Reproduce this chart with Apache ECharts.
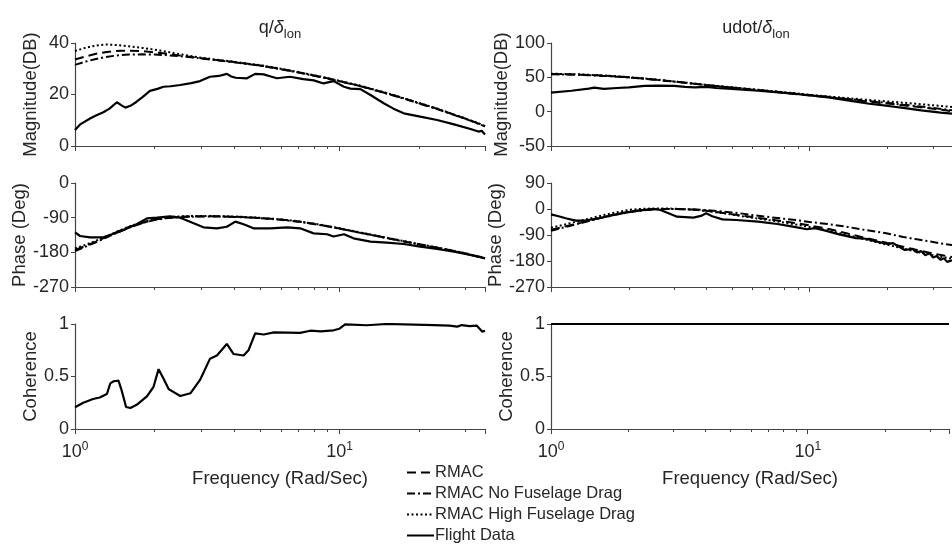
<!DOCTYPE html>
<html><head><meta charset="utf-8">
<script src="https://cdn.jsdelivr.net/npm/echarts@6/dist/echarts.min.js"></script>
<style>html,body{margin:0;padding:0;background:#fff}#c{width:952px;height:546px}</style>
</head><body><div id="c"></div>
<script>
// ---------- data ----------
const fModel = [1, 1.1, 1.2, 1.3, 1.4, 1.5, 1.6, 1.8, 2, 2.2, 2.5, 2.8, 3, 3.5, 4, 4.5, 5, 5.5, 6, 7, 8, 9, 10, 12, 14, 16, 18, 20, 23, 26, 30, 33, 35.5];

const qMagRMAC  = [33.6, 34.8, 35.8, 36.4, 36.8, 37.0, 37.0, 36.8, 36.4, 35.9, 35.1, 34.5, 34.1, 33.3, 32.6, 31.9, 31.3, 30.6, 29.9, 28.6, 27.4, 26.3, 25.2, 23.3, 21.4, 19.7, 18.1, 16.6, 14.7, 12.8, 10.6, 9.0, 7.7];
const qMagNoFus = [31.5, 32.8, 33.8, 34.5, 35.0, 35.3, 35.5, 35.6, 35.5, 35.3, 34.9, 34.4, 34.0, 33.2, 32.5, 31.8, 31.2, 30.5, 29.8, 28.5, 27.3, 26.2, 25.1, 23.2, 21.3, 19.6, 18.0, 16.5, 14.6, 12.7, 10.5, 8.9, 7.6];
const qMagHiFus = [36.9, 38.2, 39.0, 39.4, 39.3, 39.0, 38.7, 38.1, 37.4, 36.7, 35.6, 34.8, 34.3, 33.4, 32.7, 32.0, 31.4, 30.7, 30.0, 28.7, 27.5, 26.4, 25.3, 23.4, 21.5, 19.8, 18.2, 16.7, 14.8, 12.9, 10.7, 9.1, 7.8];

const qPhRMAC  = [-174, -163, -152, -141, -131, -122, -114, -103, -95, -91, -88, -87, -86.5, -86.5, -87.5, -89, -91, -93, -95, -100, -106, -112, -118, -129, -138, -146, -153, -159, -167, -174, -183, -190, -195];
const qPhNoFus = [-177, -165, -154, -143, -133, -124, -116, -104, -96, -91.5, -88.5, -87.5, -87, -87, -88, -89.5, -91.5, -93.5, -95.5, -100.5, -106.5, -112.5, -118.5, -129.5, -138.5, -146.5, -153.5, -159.5, -167.5, -174.5, -183.5, -190.5, -195.5];
const qPhHiFus = [-170, -160, -150, -140, -130, -121, -113, -102, -94, -89.5, -86.5, -85.5, -85.5, -86, -87, -88.5, -90.5, -92.5, -94.5, -99.5, -105.5, -111.5, -117.5, -128.5, -137.5, -145.5, -152.5, -158.5, -166.5, -173.5, -182.5, -189.5, -195];

const uMagRMAC  = [54.8, 54.6, 54.3, 53.9, 53.4, 52.9, 52.4, 51.3, 50.0, 48.7, 46.8, 44.9, 43.8, 41.0, 38.6, 36.8, 35.1, 33.5, 32.1, 29.6, 27.4, 25.4, 23.6, 20.6, 18.0, 15.6, 13.5, 11.8, 9.2, 7.0, 4.2, 2.3, 0.8];
const uMagNoFus = [54.4, 54.3, 54.0, 53.6, 53.1, 52.6, 52.1, 51.0, 49.8, 48.5, 46.6, 44.8, 43.7, 41.0, 38.6, 36.8, 35.2, 33.7, 32.3, 29.9, 27.8, 25.9, 24.1, 21.2, 18.7, 16.4, 14.4, 12.7, 10.2, 8.1, 5.4, 3.6, 2.1];
const uMagHiFus = [55.2, 55.0, 54.6, 54.2, 53.7, 53.2, 52.7, 51.6, 50.3, 49.0, 47.1, 45.2, 44.0, 41.3, 38.9, 37.1, 35.5, 34.0, 32.7, 30.4, 28.3, 26.4, 24.6, 21.9, 19.7, 17.8, 16.2, 14.9, 13.1, 11.4, 9.3, 7.9, 6.7];

const uPhRMAC  = [-72, -63, -55, -48, -41, -34, -28, -18, -10, -5, -1, 0, 0, -2, -6, -12, -18, -23, -28, -36, -43, -50, -57, -70, -85, -98, -108, -118, -131, -142, -154, -161, -166];
const uPhNoFus = [-75, -66, -57, -49, -42, -35, -29, -19, -11, -5.5, -1.5, 0, 0, -1, -4, -8, -12, -16, -21, -28, -34, -39, -45, -53, -62, -71, -78, -85, -97, -105, -114, -121, -125];
const uPhHiFus = [-65, -56, -48, -41, -34, -27, -21, -11, -3, 0, 2, 2, 1, -2, -7, -13, -19, -25, -30, -39, -47, -55, -62, -76, -90, -103, -114, -124, -137, -148, -160, -167, -172];

// flight data, q / delta_lon
const fqMag = [1, 1.05, 1.14, 1.2, 1.28, 1.35, 1.44, 1.5, 1.55, 1.62, 1.71, 1.8, 1.92, 2.05, 2.16, 2.3, 2.5, 2.75, 2.97, 3.24, 3.5, 3.75, 3.9, 4.05, 4.47, 4.8, 5.17, 5.5, 5.8, 6.5, 7.3, 8.0, 8.7, 9.5, 10.4, 11, 12, 13.1, 14.7, 16, 17.5, 20.2, 23.4, 27.1, 31.3, 33.5, 34.5, 35.5];
const qMagFlight = [6.2, 8.5, 10.7, 11.8, 13.1, 14.5, 17.0, 15.8, 14.9, 15.6, 17.2, 19.0, 21.4, 22.2, 23.0, 23.2, 23.7, 24.4, 25.2, 26.9, 27.2, 28.0, 27.0, 26.5, 26.3, 28.0, 27.8, 27.0, 26.3, 26.9, 26.0, 25.5, 24.3, 25.2, 23.0, 22.3, 22.1, 19.8, 16.6, 14.5, 12.7, 11.4, 10.1, 8.4, 6.6, 5.6, 5.9, 4.5];
const fqPh = [1, 1.045, 1.14, 1.28, 1.48, 1.71, 1.87, 2.04, 2.29, 2.5, 2.81, 3.06, 3.44, 3.75, 4.04, 4.34, 4.73, 5.47, 6.35, 7.1, 7.99, 8.98, 9.5, 10.4, 11.3, 13.1, 15.1, 17.5, 20.2, 23.4, 27.1, 31.3, 33.5, 35.5];
const qPhFlight = [-128, -137.6, -141, -141, -126, -107, -92, -90, -86.6, -90, -104.7, -115, -117.7, -113.6, -100.4, -107, -117.7, -117.7, -115, -117.7, -130.7, -133, -139, -133, -143.7, -152, -154.7, -158.4, -165, -171.3, -178.3, -187, -191, -195.6];
const fqCoh = [1, 1.075, 1.17, 1.24, 1.32, 1.36, 1.40, 1.46, 1.50, 1.56, 1.62, 1.71, 1.87, 1.98, 2.07, 2.16, 2.26, 2.5, 2.73, 2.97, 3.24, 3.44, 3.75, 3.98, 4.34, 4.53, 4.80, 5.17, 5.65, 7.1, 7.76, 8.5, 9.5, 10.0, 10.5, 12.7, 15.1, 22.8, 26, 27.9, 29, 31, 33, 34.7, 35.5];
const qCohFlight = [0.207, 0.25, 0.286, 0.30, 0.333, 0.435, 0.455, 0.46, 0.37, 0.21, 0.20, 0.23, 0.31, 0.40, 0.57, 0.48, 0.38, 0.314, 0.34, 0.467, 0.67, 0.70, 0.81, 0.714, 0.70, 0.75, 0.91, 0.90, 0.92, 0.915, 0.936, 0.93, 0.94, 0.955, 0.997, 0.988, 1.0, 0.99, 0.985, 0.975, 0.99, 0.98, 0.985, 0.926, 0.935];

// flight data, udot / delta_lon
const fuMag = [1, 1.2, 1.4, 1.47, 1.6, 1.8, 2.0, 2.3, 2.6, 3.0, 3.3, 3.6, 4.0, 4.34, 5, 6.32, 8, 9.76, 12, 15.07, 17, 20.1, 23, 27, 32.1, 35.5];
const uMagFlight = [27.6, 30.5, 33.5, 35.0, 33.2, 34.5, 35.5, 37.5, 37.8, 37.5, 36.0, 35.5, 36.0, 34.5, 33.0, 30.5, 27.5, 24.3, 20.5, 14.5, 11.5, 8.3, 5.5, 2.0, -1.5, -3.0];
const fuPh = [1, 1.07, 1.14, 1.2, 1.25, 1.35, 1.53, 1.75, 2.04, 2.3, 2.5, 2.65, 2.8, 3.07, 3.3, 3.55, 3.8, 3.98, 4.2, 4.6, 5.2, 6.32, 7.5, 8.5, 9.76, 10.5, 11.5, 13, 15.1, 16.5, 18, 20, 21, 23.3, 25, 26, 27, 28, 29, 30, 31, 32.1, 33, 34, 35.5];
const uPhFlight = [-18.5, -25, -32, -37, -40.4, -40, -32, -20, -9, -3, 0, -3.5, -12, -26.6, -28, -30, -24, -15, -25, -35.8, -38, -44, -52, -60, -70, -66, -75, -88, -101, -103, -112, -121, -118, -142, -138, -150, -146, -160, -152, -168, -163, -176, -170, -183, -178];
const fuCoh = [1, 35.5];
const uCohFlight = [1, 1];

const names = ['RMAC', 'RMAC No Fuselage Drag', 'RMAC High Fuselage Drag', 'Flight Data'];
const titles = ['q/{d|δ}{s|lon}', 'udot/{d|δ}{s|lon}'];
const yNames = ['Magnitude(DB)', 'Phase (Deg)', 'Coherence'];
const xName = 'Frequency (Rad/Sec)';
const xMin = 1, xMax = 35.5;

// ---------- build ----------
const pairs = (f, v) => f.map((x, i) => [x, v[i]]);
const TXT = '#262626', AX = '#444';
const FONT = 'Liberation Sans, Arial, sans-serif';
const colLeft = [75, 551], gridW = 410;
const rowTop = [43, 183, 324], rowH = [103, 104, 105];
const yRanges = [
  [[0, 40, 20], [-270, 0, 90], [0, 1, 0.5]],
  [[-50, 100, 50], [-270, 90, 90], [0, 1, 0.5]]
];
const styles = [
  {type: [9, 5], width: 2},
  {type: [8, 3, 2, 3], width: 2},
  {type: [2, 2.5], width: 2},
  {type: 'solid', width: 2.2}
];

const grids = [], xAxes = [], yAxes = [], series = [];
for (let c = 0; c < 2; c++) {
  for (let r = 0; r < 3; r++) {
    const gi = grids.length;
    grids.push({left: colLeft[c], top: rowTop[r], width: gridW, height: rowH[r], containLabel: false});
    const bottom = r === 2;
    xAxes.push({
      type: 'log', logBase: 10, gridIndex: gi, min: xMin, max: xMax, position: 'bottom',
      axisLine: {onZero: false, lineStyle: {color: AX, width: 1.2}},
      axisTick: {show: true, length: 5, lineStyle: {color: AX}},
      minorTick: {show: true, splitNumber: 9, length: 3, lineStyle: {color: AX}},
      splitLine: {show: false}, minorSplitLine: {show: false},
      axisLabel: {
        show: bottom, margin: 12, color: TXT, fontFamily: FONT, fontSize: 18, lineHeight: 22,
        formatter: v => {
          const e = Math.log10(v);
          if (Math.abs(e - Math.round(e)) > 1e-6) return '';
          return '10{sup|' + Math.round(e) + '}';
        },
        rich: {sup: {fontSize: 12, lineHeight: 12, verticalAlign: 'top', color: TXT, fontFamily: FONT}}
      },
      name: bottom ? xName : '', nameLocation: 'middle', nameGap: 40,
      nameTextStyle: {color: TXT, fontFamily: FONT, fontSize: 18.5}
    });
    const yr = yRanges[c][r];
    yAxes.push({
      type: 'value', gridIndex: gi, min: yr[0], max: yr[1], interval: yr[2],
      axisLine: {show: true, onZero: false, lineStyle: {color: AX, width: 1.2}},
      axisTick: {show: true, length: 4, lineStyle: {color: AX}},
      splitLine: {show: false},
      axisLabel: {color: TXT, fontFamily: FONT, fontSize: 18, margin: 6},
      name: yNames[r], nameLocation: 'middle', nameGap: 35,
      nameTextStyle: {color: TXT, fontFamily: FONT, fontSize: 18.5}
    });
  }
}

function addSeries(gi, name, data, sIdx) {
  series.push({
    name, type: 'line', xAxisIndex: gi, yAxisIndex: gi, data,
    symbol: 'none', showSymbol: false, smooth: false, animation: false,
    lineStyle: {color: '#000', width: styles[sIdx].width, type: styles[sIdx].type},
    itemStyle: {color: '#000'}, z: sIdx === 3 ? 4 : 3
  });
}
// left column (q)
addSeries(0, names[0], pairs(fModel, qMagRMAC), 0);
addSeries(0, names[1], pairs(fModel, qMagNoFus), 1);
addSeries(0, names[2], pairs(fModel, qMagHiFus), 2);
addSeries(0, names[3], pairs(fqMag, qMagFlight), 3);
addSeries(1, names[0], pairs(fModel, qPhRMAC), 0);
addSeries(1, names[1], pairs(fModel, qPhNoFus), 1);
addSeries(1, names[2], pairs(fModel, qPhHiFus), 2);
addSeries(1, names[3], pairs(fqPh, qPhFlight), 3);
addSeries(2, names[3], pairs(fqCoh, qCohFlight), 3);
// right column (udot)
addSeries(3, names[0], pairs(fModel, uMagRMAC), 0);
addSeries(3, names[1], pairs(fModel, uMagNoFus), 1);
addSeries(3, names[2], pairs(fModel, uMagHiFus), 2);
addSeries(3, names[3], pairs(fuMag, uMagFlight), 3);
addSeries(4, names[0], pairs(fModel, uPhRMAC), 0);
addSeries(4, names[1], pairs(fModel, uPhNoFus), 1);
addSeries(4, names[2], pairs(fModel, uPhHiFus), 2);
addSeries(4, names[3], pairs(fuPh, uPhFlight), 3);
addSeries(5, names[3], pairs(fuCoh, uCohFlight), 3);

const titleOpts = titles.map((t, i) => ({
  text: t, left: colLeft[i] + gridW / 2, top: 15, textAlign: 'center', padding: 0,
  textStyle: {
    color: TXT, fontFamily: FONT, fontSize: 18, fontWeight: 'normal', lineHeight: 26,
    rich: {
      d: {fontStyle: 'italic', fontSize: 18, color: TXT, fontFamily: FONT, lineHeight: 26},
      s: {fontSize: 13, color: TXT, fontFamily: FONT, lineHeight: 14, verticalAlign: 'bottom'}
    }
  }
}));

const chart = echarts.init(document.getElementById('c'), null, {renderer: 'canvas'});
chart.setOption({
  backgroundColor: '#fff',
  animation: false,
  title: titleOpts,
  grid: grids, xAxis: xAxes, yAxis: yAxes, series,
  legend: {
    data: names, orient: 'vertical', left: 406, top: 464, bottom: -60, padding: 0,
    itemGap: 4, itemWidth: 27, itemHeight: 14,
    itemStyle: {color: 'rgba(0,0,0,0)', borderWidth: 0, opacity: 0},
    textStyle: {color: TXT, fontFamily: FONT, fontSize: 16.5, padding: [0, 0, 0, -4]},
    selectedMode: false
  }
});
</script></body></html>
